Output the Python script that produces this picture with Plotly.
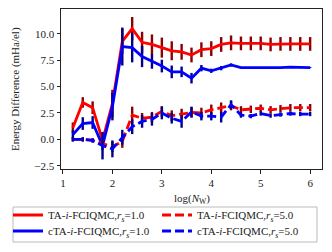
import plotly.graph_objects as go

log_nw = [1.2, 1.4, 1.6, 1.8, 2.0, 2.2, 2.4, 2.6, 2.8, 3.0, 3.2, 3.4, 3.6,
          3.8, 4.0, 4.2, 4.4, 4.6, 4.8, 5.0, 5.2, 5.4, 5.6, 5.8, 6.0]

ta_rs1 = [1.1, 3.5, 3.0, -0.1, 3.4, 9.3, 10.5, 9.2, 9.0, 8.7, 8.4, 8.3, 8.0,
          8.5, 8.6, 9.0, 9.15, 9.1, 9.1, 9.1, 9.0, 9.05, 9.05, 9.05, 9.05]
ta_rs1_err = [0.5, 0.5, 0.6, 0.4, 1.3, 1.2, 1.1, 1.0, 0.95, 0.95, 0.9, 0.75, 0.7,
              0.7, 0.7, 0.7, 0.7, 0.65, 0.65, 0.65, 0.65, 0.65, 0.65, 0.65, 0.65]

cta_rs1 = [0.45, 1.5, 1.6, -0.6, 3.1, 8.8, 8.7, 7.85, 7.4, 6.95, 6.4, 6.4, 5.8,
           6.75, 6.5, 6.75, 7.05, 6.8, 6.8, 6.8, 6.75, 6.8, 6.85, 6.8, 6.8]
cta_rs1_err = [0.4, 0.6, 0.6, 1.3, 1.3, 1.8, 1.4, 1.0, 0.7, 0.6, 0.6, 0.5, 0.5,
               0.3, 0.2, 0.2, 0.15, 0.05, 0.05, 0.05, 0.05, 0.05, 0.05, 0.05, 0.05]

ta_rs5 = [0.0, 0.0, -0.1, -0.4, -0.7, -0.2, 2.3, 2.0, 2.1, 2.65, 2.25, 2.4, 2.55,
          2.5, 2.8, 3.0, 3.2, 2.8, 2.85, 2.95, 2.8, 2.9, 3.0, 3.0, 3.0]
ta_rs5_err = [0.2, 0.2, 0.2, 0.3, 0.5, 0.6, 0.8, 0.5, 0.5, 0.5, 0.5, 0.5, 0.5,
              0.5, 0.5, 0.5, 0.45, 0.35, 0.35, 0.35, 0.35, 0.35, 0.35, 0.35, 0.35]

cta_rs5 = [0.0, 0.0, -0.1, -0.6, -0.9, 0.2, 1.2, 1.7, 1.9, 2.5, 2.0, 1.7, 2.6,
           2.2, 2.2, 2.1, 3.3, 2.3, 2.2, 2.45, 2.25, 2.35, 2.45, 2.4, 2.4]
cta_rs5_err = [0.2, 0.2, 0.2, 0.4, 0.8, 0.7, 0.7, 0.6, 0.6, 0.6, 0.5, 0.6, 0.5,
               0.4, 0.4, 0.5, 0.4, 0.25, 0.2, 0.2, 0.2, 0.2, 0.2, 0.2, 0.2]

y_ticks = [-2.5, 0.0, 2.5, 5.0, 7.5, 10.0]
x_ticks = [1, 2, 3, 4, 5, 6]

FONT = "Liberation Serif"
OFF = 8  # page body margin
W, H = 332 - OFF, 252 - OFF
ML, MR, MT, MB = 61 - OFF, 10, 9 - OFF, 252 - 169
PW, PH = W - ML - MR, H - MT - MB


def px_x(p):  # reference page pixel -> paper fraction
    return (p - OFF - ML) / PW


def px_y(p):
    return (H - MB - (p - OFF)) / PH


fig = go.Figure()


def add(name, y, err, color, ecolor, dash, legend):
    fig.add_trace(go.Scatter(
        x=log_nw, y=y, mode="lines", name=name, legend=legend,
        line=dict(color=color, width=2.8, dash=dash),
        error_y=dict(type="data", array=err, visible=True, color=ecolor,
                     thickness=2.4, width=0)))


add("TA-<i>i</i>-FCIQMC,<i>r</i><sub><i>s</i></sub>=1.0", ta_rs1, ta_rs1_err,
    "#ff0000", "#8b0000", "solid", "legend")
add("cTA-<i>i</i>-FCIQMC,<i>r</i><sub><i>s</i></sub>=1.0", cta_rs1, cta_rs1_err,
    "#0000ff", "#00008b", "solid", "legend2")
add("TA-<i>i</i>-FCIQMC,<i>r</i><sub><i>s</i></sub>=5.0", ta_rs5, ta_rs5_err,
    "#ff0000", "#8b0000", "9px,4px", "legend3")
add("cTA-<i>i</i>-FCIQMC,<i>r</i><sub><i>s</i></sub>=5.0", cta_rs5, cta_rs5_err,
    "#0000ff", "#00008b", "9px,4px", "legend4")

axis_common = dict(showline=True, linecolor="#222222", linewidth=1, mirror=True,
                   ticks="outside", ticklen=3.5, tickwidth=1, tickcolor="#222222",
                   showgrid=False, zeroline=False,
                   tickfont=dict(family=FONT, size=11, color="#222222"))

leg_common = dict(orientation="v", xref="container", yref="container",
                  xanchor="left", yanchor="middle",
                  borderwidth=0, bgcolor="rgba(0,0,0,0)", itemwidth=30,
                  font=dict(family=FONT, size=11, color="#222222"))


def leg(xp, yp):  # xp, yp: legend left / row centre in reference page pixels
    return dict(x=max(xp - OFF, 0) / W, y=1 - (yp - OFF) / H, **leg_common)


fig.update_layout(
    width=W, height=H,
    margin=dict(l=ML, r=MR, t=MT, b=MB, autoexpand=False),
    plot_bgcolor="white", paper_bgcolor="white",
    font=dict(family=FONT, size=11, color="#222222"),
    xaxis=dict(range=[0.96, 6.24], tickvals=x_ticks, **axis_common),
    yaxis=dict(range=[-2.81, 12.36], tickvals=y_ticks, tickformat=".1f",
               **axis_common),
    legend=leg(8, 215),
    legend2=leg(8, 231),
    legend3=leg(157, 215),
    legend4=leg(157, 231),
    showlegend=True,
    annotations=[
        dict(text="log(<i>N</i><sub>W</sub>)", xref="paper", yref="paper",
             x=0.5, y=px_y(199), xanchor="center", yanchor="middle",
             showarrow=False, font=dict(family=FONT, size=11, color="#222222")),
        dict(text="Energy Difference (mHa/el)", xref="paper", yref="paper",
             x=px_x(15), y=0.5, xanchor="center", yanchor="middle", textangle=-90,
             showarrow=False, font=dict(family=FONT, size=11, color="#222222")),
    ],
    shapes=[dict(type="rect", xref="paper", yref="paper",
                 x0=px_x(13), x1=px_x(317), y0=px_y(207), y1=px_y(242),
                 line=dict(color="#bbbbbb", width=1), fillcolor="rgba(0,0,0,0)",
                 layer="above")],
)

fig.write_html("out.html")
